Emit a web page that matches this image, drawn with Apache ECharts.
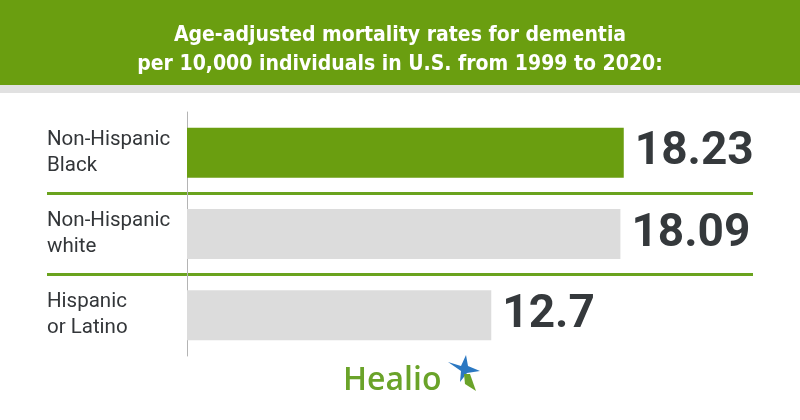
<!DOCTYPE html>
<html>
<head>
<meta charset="utf-8">
<script src="https://cdn.jsdelivr.net/npm/echarts@6/dist/echarts.min.js"></script>
<style>html,body{margin:0;padding:0;background:#fff}#c{width:800px;height:420px}</style>
</head>
<body>
<div id="c"></div>
<script>
const titleLines = ['Age-adjusted mortality rates for dementia', 'per 10,000 individuals in U.S. from 1999 to 2020:'];
const categories = ['Non-Hispanic\nBlack', 'Non-Hispanic\nwhite', 'Hispanic\nor Latino'];
const values = [18.23, 18.09, 12.7];
const barColors = ['#6a9e10', '#dcdcdc', '#dcdcdc'];
const brandName = 'Healio';

const chart = echarts.init(document.getElementById('c'), null, {renderer: 'canvas'});
const green = '#6a9e10';

chart.setOption({
  animation: false,
  backgroundColor: '#ffffff',
  title: {
    text: titleLines.join('\n'),
    left: 'center',
    top: 16,
    textStyle: {
      color: '#ffffff',
      fontFamily: "'DejaVu Sans Condensed', 'Liberation Sans Narrow', Roboto, sans-serif",
      fontWeight: 'bold',
      fontSize: 21,
      lineHeight: 29
    }
  },
  graphic: [
    {type: 'rect', z: -10, shape: {x: 0, y: 0, width: 800, height: 85}, style: {fill: green}},
    {type: 'rect', z: -10, shape: {x: 0, y: 85, width: 800, height: 8}, style: {fill: '#e1e1e1'}},
    {type: 'text', x: 343, y: 365, style: {text: brandName, fill: '#6aa329', font: '600 32px "Open Sans"'}},
    {type: 'polygon', shape: {points: [[448,362],[461,366],[466,355],[468,366],[480,371],[467,373],[460,382],[461,371]]}, style: {fill: '#2b78c2'}},
    {type: 'polygon', shape: {points: [[464,374],[470,374],[476,391],[465,384]]}, style: {fill: '#6aa329'}}
  ],
  grid: [
    {left: 187, right: 38, top: 112, height: 244},
    {left: 47, right: 47, top: 112, height: 244}
  ],
  xAxis: [
    {type: 'value', gridIndex: 0, min: 0, max: 24, show: false},
    {type: 'value', gridIndex: 1, min: 0, max: 1, show: false}
  ],
  yAxis: [
    {
      type: 'category', gridIndex: 0, data: categories, inverse: true,
      axisLine: {show: true, lineStyle: {color: '#b4b4b4', width: 1}},
      axisTick: {show: false},
      splitLine: {show: false},
      axisLabel: {
        align: 'left', margin: 140, color: '#333639',
        fontFamily: 'Roboto', fontSize: 20.5, lineHeight: 26
      }
    },
    {
      type: 'category', gridIndex: 1, data: categories, inverse: true,
      axisLine: {show: false}, axisTick: {show: false}, axisLabel: {show: false},
      splitLine: {show: true, showMinLine: false, showMaxLine: false, lineStyle: {color: '#6aa31e', width: 3}}
    }
  ],
  series: [{
    type: 'bar',
    xAxisIndex: 0, yAxisIndex: 0,
    barWidth: 50,
    data: values.map((v, i) => ({value: v, itemStyle: {color: barColors[i]}})),
    label: {
      show: true, position: 'right', distance: 11,
      color: '#35393c', fontFamily: 'Roboto', fontWeight: 'bold', fontSize: 46
    }
  }]
});
</script>
</body>
</html>
